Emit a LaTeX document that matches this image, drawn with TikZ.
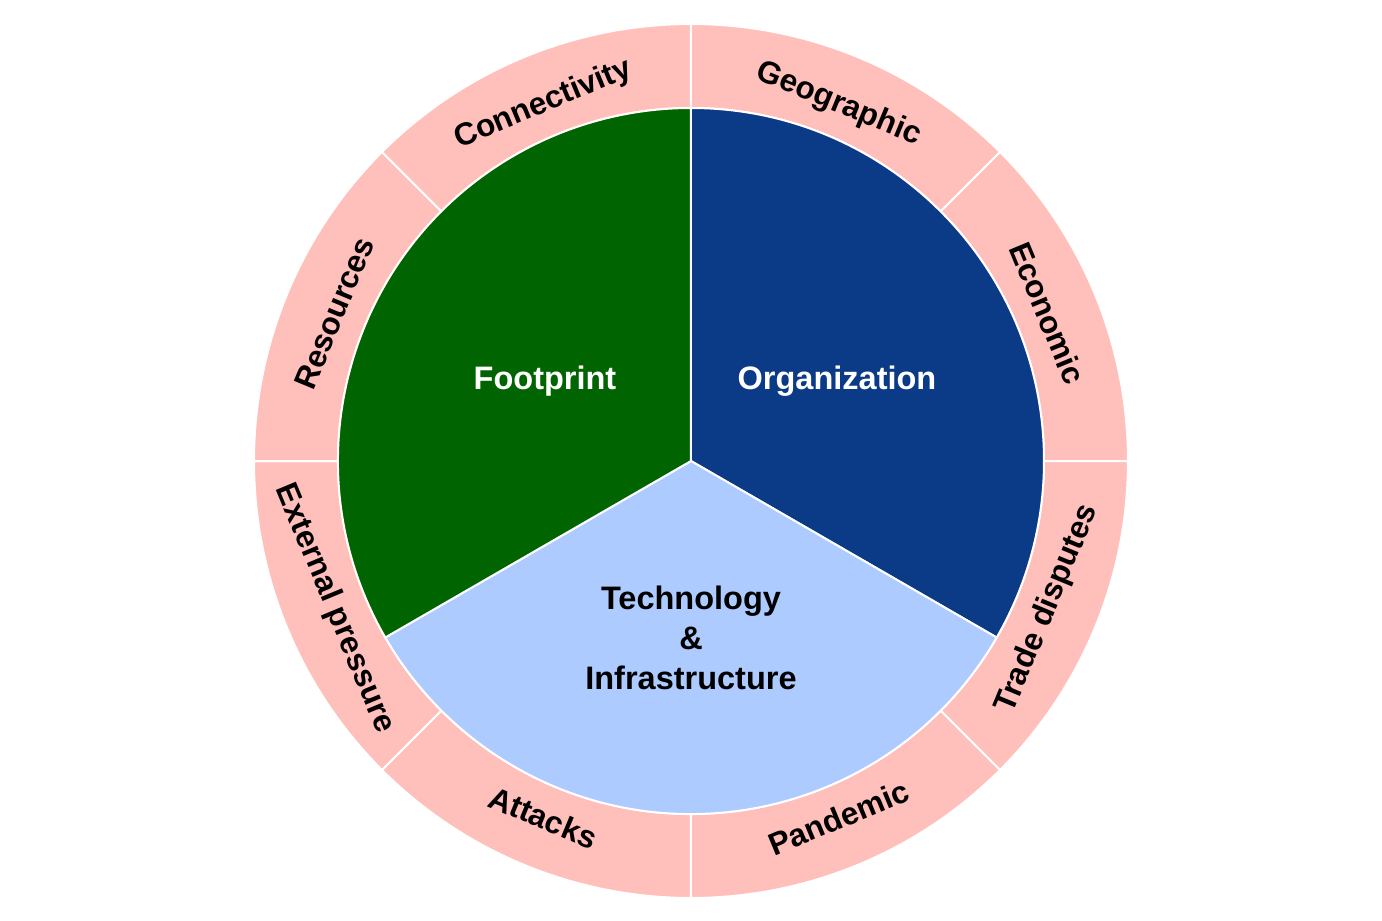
\documentclass[tikz,border=0pt]{standalone}
\usepackage{fontspec}
\setmainfont{Liberation Sans}
\definecolor{ringpink}{HTML}{FFC0BC}
\definecolor{orgblue}{HTML}{0B3A87}
\definecolor{techblue}{HTML}{ADCBFF}
\definecolor{footgreen}{HTML}{006400}
\tikzset{
  seg/.style={draw=white, line width=2pt, line join=round},
  lab/.style={font=\fontsize{32.5}{40}\selectfont\bfseries, inner sep=0pt, align=center},
  olab/.style={font=\fontsize{31.5}{38}\selectfont\bfseries, inner sep=0pt, align=center},
}
\begin{document}
\begin{tikzpicture}[x=1pt,y=1pt]
\useasboundingbox (-691,-460) rectangle (691,461);
% outer ring
\foreach \a in {90,45,0,-45,-90,-135,-180,-225}{
  \pgfmathsetmacro\b{\a-45}
  \draw[seg, fill=ringpink] (\a:353pt) arc[start angle=\a, end angle=\b, radius=353pt]
     -- (\b:437pt) arc[start angle=\b, end angle=\a, radius=437pt] -- cycle;
}
% inner pie
\draw[seg, fill=orgblue] (0,0) -- (90:353pt) arc[start angle=90, end angle=-30, radius=353pt] -- cycle;
\draw[seg, fill=techblue] (0,0) -- (-30:353pt) arc[start angle=-30, end angle=-150, radius=353pt] -- cycle;
\draw[seg, fill=footgreen] (0,0) -- (210:353pt) arc[start angle=210, end angle=90, radius=353pt] -- cycle;
% inner labels
\node[lab, text=white] (org) at (146,80) {Organization};
\node[lab, text=white] (foot) at (-146,80) {Footprint};
\node[lab, text=black] (tech) at (0,-177) {Technology\\\&\\Infrastructure};
% outer labels
\node[olab, rotate=-22.5] (geo) at (67.5:386pt) {Geographic};
\node[olab, rotate=-67.5] (eco) at (22.5:386pt) {Economic};
\node[olab, rotate=67.5] (trade) at (-22.5:386pt) {Trade disputes};
\node[olab, rotate=22.5] (pan) at (-67.5:386pt) {Pandemic};
\node[olab, rotate=-22.5] (att) at (-112.5:386pt) {Attacks};
\node[olab, rotate=-67.5] (ext) at (-157.5:386pt) {External pressure};
\node[olab, rotate=67.5] (res) at (157.5:386pt) {Resources};
\node[olab, rotate=22.5] (con) at (112.5:386pt) {Connectivity};
\end{tikzpicture}
\end{document}
